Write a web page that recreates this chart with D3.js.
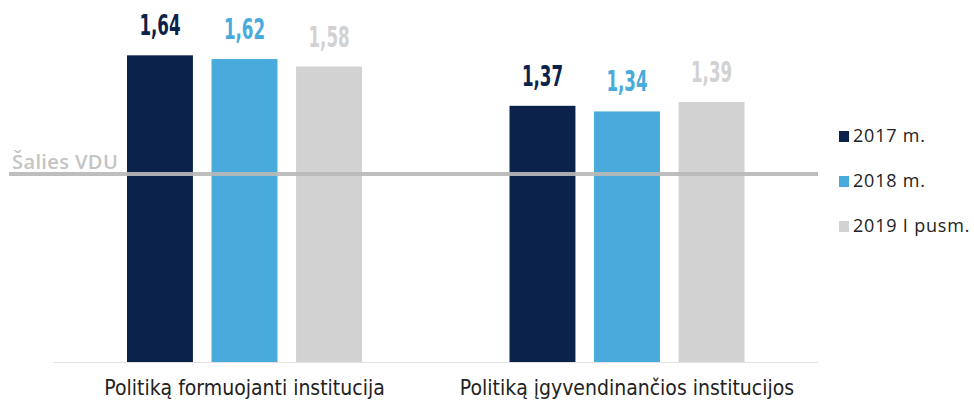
<!DOCTYPE html>
<html>
<head>
<meta charset="utf-8">
<script src="https://cdn.jsdelivr.net/npm/d3@7"></script>
<style>
  body { margin: 0; background: #fff; }
  svg { display: block; }
</style>
</head>
<body>
<svg class="chart" width="974" height="401"></svg>
<script>
const categories = ["Politiką formuojanti institucija", "Politiką įgyvendinančios institucijos"]
const series = ["2017 m.", "2018 m.", "2019 I pusm."]
const values = [
  [1.64, 1.62, 1.58],
  [1.37, 1.34, 1.39]
]
const refValue = 1.0
const refLabel = "Šalies VDU"
const colors = ["#0b234a", "#48abdb", "#d2d2d2"]

const narrow = "'DejaVu Sans Condensed', sans-serif"

function render() {
  const svg = d3.select(".chart")

  const x0 = d3.scaleBand()
    .domain(categories)
    .range([53, 818])

  const x1 = d3.scaleBand()
    .domain(series)
    .range([74, 309])
    .paddingInner(0.22)

  const y = d3.scaleLinear()
    .domain([0, 1])
    .range([362, 175])

  // bars
  const groups = svg.selectAll(".grp")
    .data(categories)
    .enter().append("g")
    .attr("class", "grp")
    .attr("transform", d => `translate(${x0(d)},0)`)

  groups.selectAll("rect")
    .data((d, i) => values[i].map((v, j) => ({ s: series[j], v, j })))
    .enter().append("rect")
    .attr("x", d => x1(d.s))
    .attr("y", d => y(d.v))
    .attr("width", x1.bandwidth())
    .attr("height", d => y(0) - y(d.v))
    .attr("fill", d => colors[d.j])

  // value labels, squeezed horizontally to look like a condensed face
  groups.selectAll(".val")
    .data((d, i) => values[i].map((v, j) => ({ s: series[j], v, j })))
    .enter().append("text")
    .attr("class", "val")
    .attr("transform", d => `translate(${x1(d.s) + x1.bandwidth() / 2},${y(d.v) - 20}) scale(0.64,1)`)
    .attr("text-anchor", "middle")
    .style("font-family", narrow)
    .style("font-weight", "bold")
    .style("font-size", "29px")
    .attr("fill", d => colors[d.j])
    .text(d => d3.format(".2f")(d.v).replace(".", ","))

  // baseline
  svg.append("line")
    .attr("x1", x0.range()[0])
    .attr("x2", x0.range()[1])
    .attr("y1", y(0) + 0.5)
    .attr("y2", y(0) + 0.5)
    .attr("stroke", "#e3e3e3")
    .attr("stroke-width", 1)

  // reference line (national average wage)
  svg.append("line")
    .attr("x1", 9)
    .attr("x2", 818)
    .attr("y1", y(refValue) - 1)
    .attr("y2", y(refValue) - 1)
    .attr("stroke", "#b9b9b9")
    .attr("stroke-opacity", 0.92)
    .attr("stroke-width", 4)

  svg.append("text")
    .attr("x", 12)
    .attr("y", 169)
    .style("font-family", "'Open Sans', sans-serif")
    .style("font-weight", 600)
    .style("font-size", "20px")
    .style("letter-spacing", "0.4px")
    .attr("fill", "#c4c4c4")
    .text(refLabel)

  // category labels
  svg.selectAll(".cat")
    .data(categories)
    .enter().append("text")
    .attr("class", "cat")
    .attr("x", d => x0(d) + (x1.range()[0] + x1.range()[1]) / 2)
    .attr("y", 395)
    .attr("text-anchor", "middle")
    .style("font-family", narrow)
    .style("font-size", "21px")
    .attr("fill", "#222")
    .text(d => d)

  // legend
  const legend = svg.selectAll(".leg")
    .data(series)
    .enter().append("g")
    .attr("class", "leg")
    .attr("transform", (d, i) => `translate(839,${142 + i * 45})`)

  legend.append("rect")
    .attr("x", 0)
    .attr("y", -11)
    .attr("width", 10)
    .attr("height", 11)
    .attr("fill", (d, i) => colors[i])

  legend.append("text")
    .attr("x", 14)
    .attr("y", 0)
    .style("font-family", "'Open Sans', sans-serif")
    .style("font-size", "18px")
    .style("letter-spacing", "0.8px")
    .attr("fill", "#222")
    .text(d => d)
}

window.addEventListener('load', render)
</script>
</body>
</html>
